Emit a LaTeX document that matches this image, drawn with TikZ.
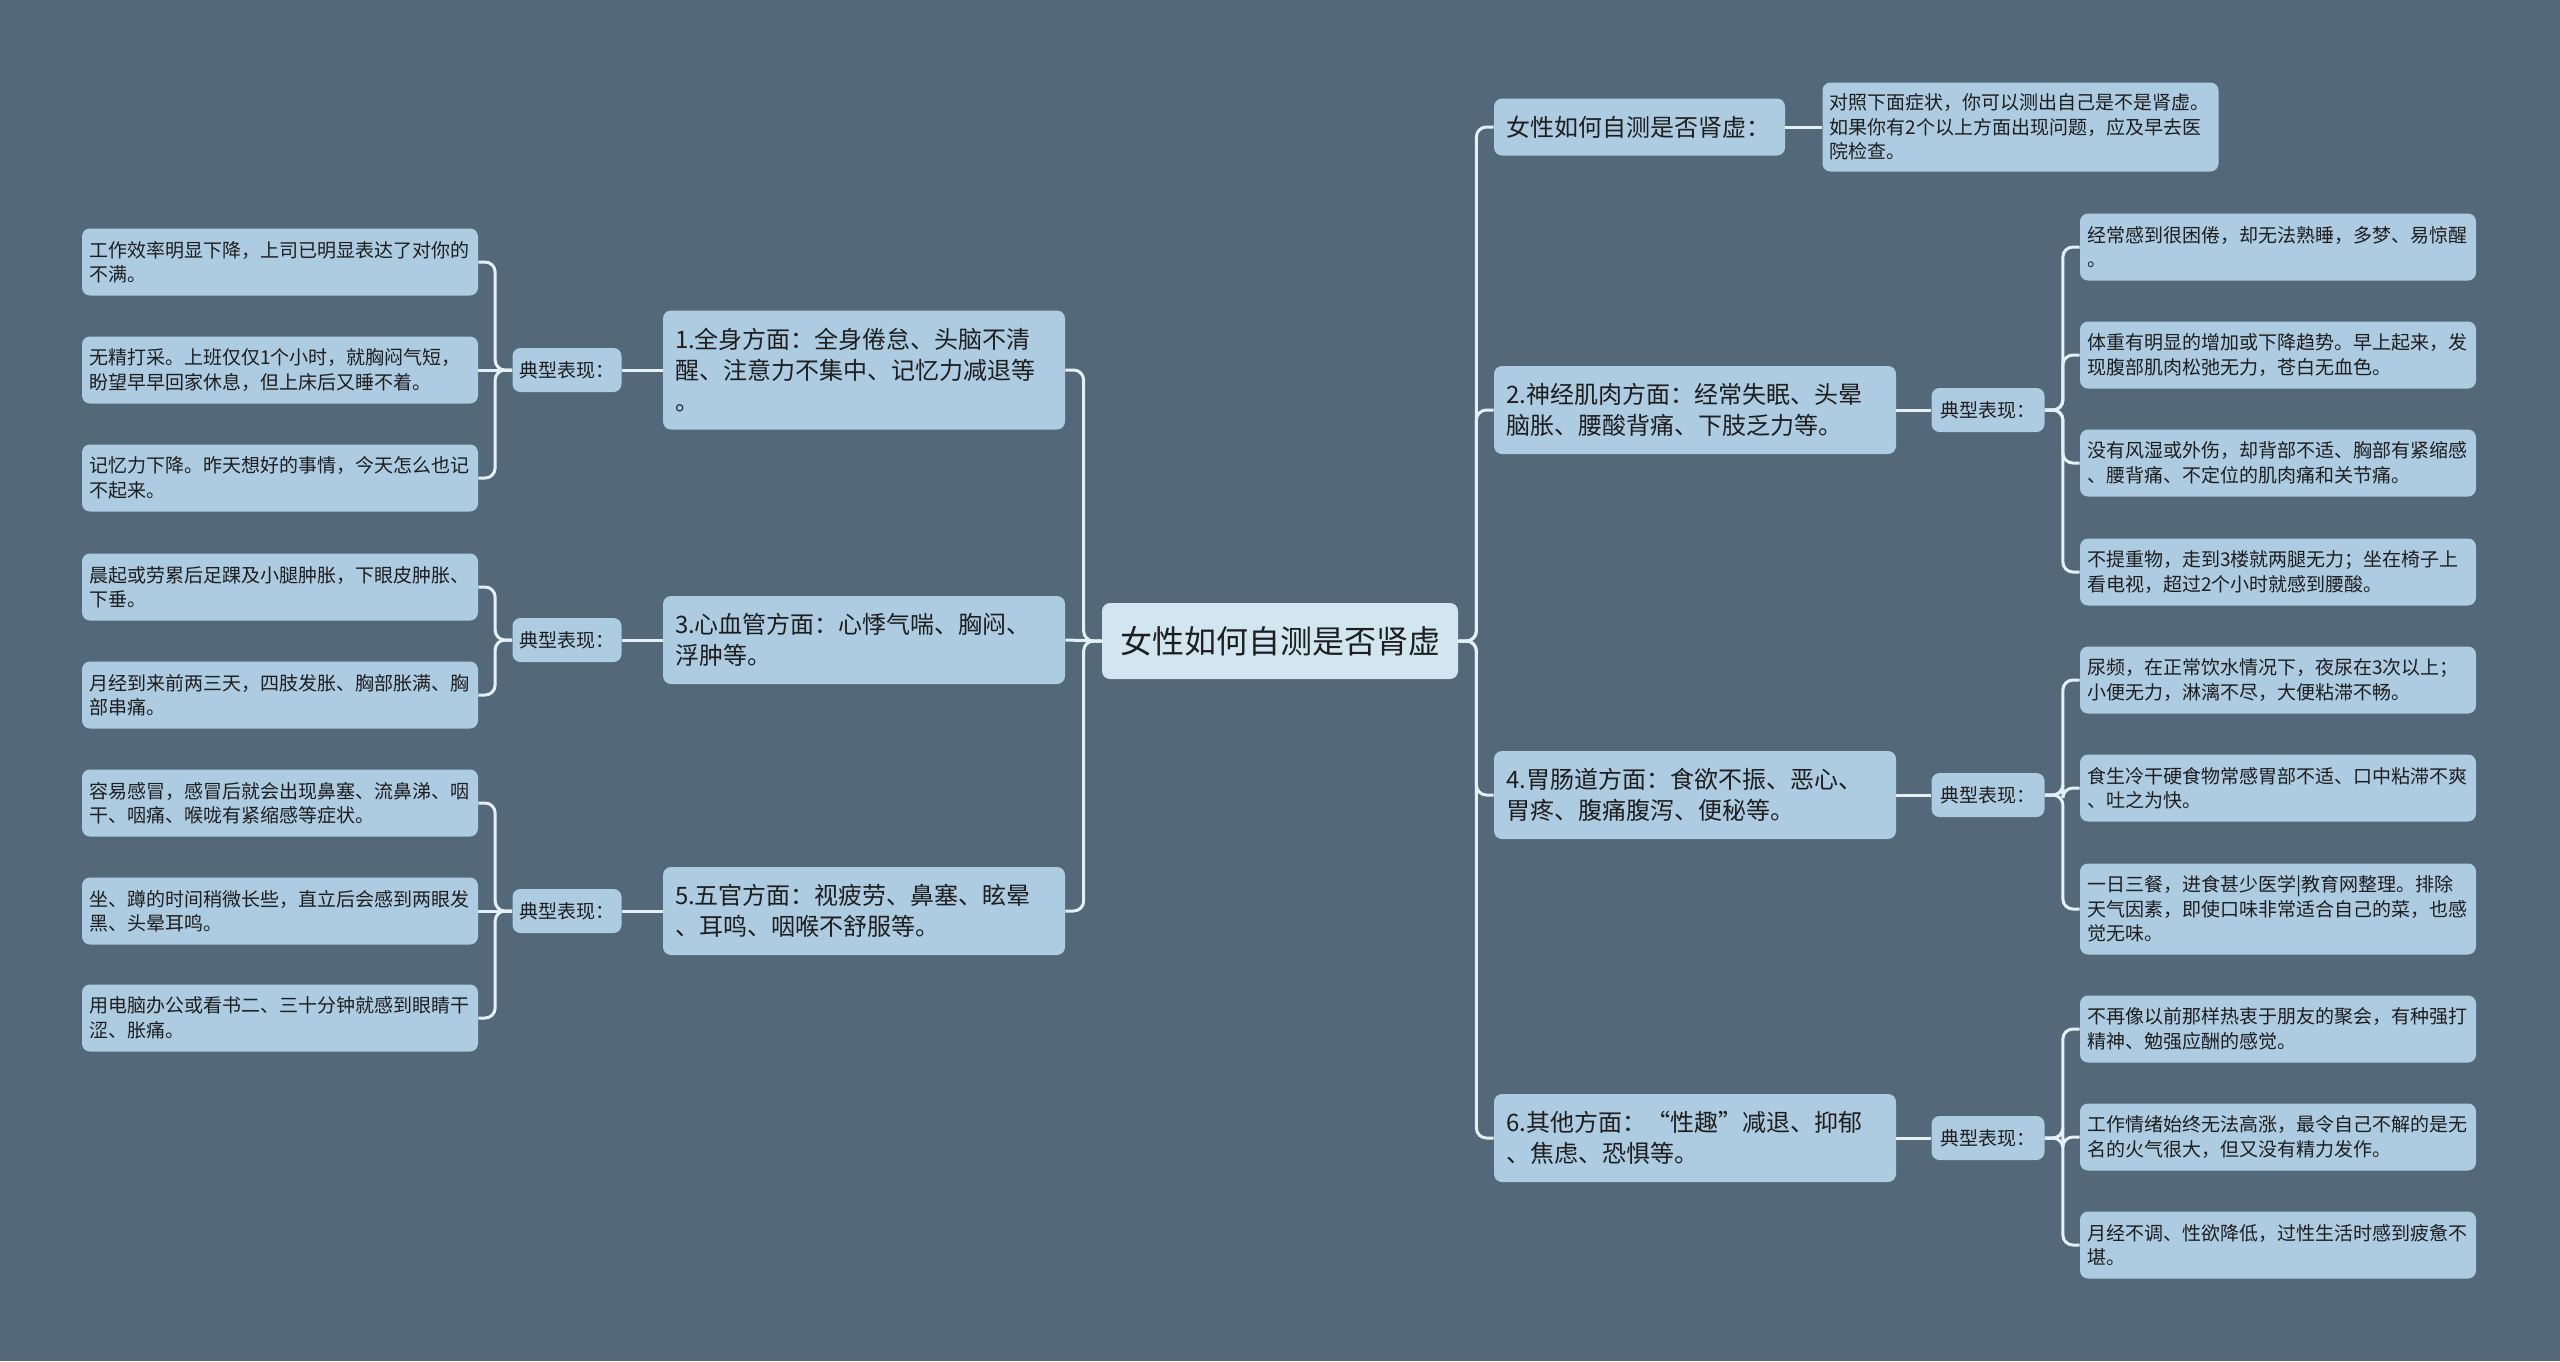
\documentclass[tikz,border=0pt]{standalone}
\usepackage{fontspec}
\setmainfont{Noto Sans CJK SC}
\definecolor{bgslate}{HTML}{536979}
\definecolor{leafblue}{HTML}{ADCBE1}
\definecolor{rootblue}{HTML}{D2E6F2}
\definecolor{linkwhite}{HTML}{E4EFF6}
\definecolor{inkdark}{HTML}{1E1E1E}

\tikzset{every picture/.style={line width=0.75pt}}
\tikzset{
  boxbase/.style={fill=leafblue, rounded corners=8, text=inkdark, anchor=center},
  leaf/.style={boxbase, align=left, text width=382, inner xsep=7, inner ysep=3,
    minimum height=67, font=\fontsize{19}{24.5}\selectfont},
  branch/.style={boxbase, align=left, text width=378, inner xsep=12, inner ysep=3,
    minimum height=88, font=\fontsize{24}{31}\selectfont},
  tagbox/.style={boxbase, inner sep=3, minimum width=109, minimum height=44,
    font=\fontsize{19}{24}\selectfont},
  rootbox/.style={boxbase, fill=rootblue, inner sep=3, minimum width=356, minimum height=76,
    font=\fontsize{32}{38}\selectfont},
  link/.style={draw=linkwhite, line width=3, rounded corners=10}
}

\begin{document}
\begin{tikzpicture}[x=1pt,y=1pt,yscale=-1,xscale=1]
\useasboundingbox (0,0) rectangle (2560,1361);
\fill[bgslate] (0,0) rectangle (2560,1361);

% centre
\node[rootbox] (root) at (1280,641) {女性如何自测是否肾虚};

% left branches
\node[branch, minimum height=119] (n1) at (864,370) {1.全身方面：全身倦怠、头脑不清\\醒、注意力不集中、记忆力减退等\\。};
\node[branch] (n3) at (864,640) {3.心血管方面：心悸气喘、胸闷、\\浮肿等。};
\node[branch] (n5) at (864,911) {5.五官方面：视疲劳、鼻塞、眩晕\\、耳鸣、咽喉不舒服等。};

\node[tagbox] (t1) at (567,370) {典型表现：};
\node[tagbox] (t3) at (567,640) {典型表现：};
\node[tagbox] (t5) at (567,911) {典型表现：};

\node[leaf] (a1) at (280,262) {工作效率明显下降，上司已明显表达了对你的\\不满。};
\node[leaf] (a2) at (280,370) {无精打采。上班仅仅1个小时，就胸闷气短，\\盼望早早回家休息，但上床后又睡不着。};
\node[leaf] (a3) at (280,478) {记忆力下降。昨天想好的事情，今天怎么也记\\不起来。};

\node[leaf] (c1) at (280,587) {晨起或劳累后足踝及小腿肿胀，下眼皮肿胀、\\下垂。};
\node[leaf] (c2) at (280,695) {月经到来前两三天，四肢发胀、胸部胀满、胸\\部串痛。};

\node[leaf] (e1) at (280,803) {容易感冒，感冒后就会出现鼻塞、流鼻涕、咽\\干、咽痛、喉咙有紧缩感等症状。};
\node[leaf] (e2) at (280,911) {坐、蹲的时间稍微长些，直立后会感到两眼发\\黑、头晕耳鸣。};
\node[leaf] (e3) at (280,1018) {用电脑办公或看书二、三十分钟就感到眼睛干\\涩、胀痛。};

% right branches
\node[branch, text width=267, minimum height=57] (r0) at (1639.5,127) {女性如何自测是否肾虚：};
\node[branch] (r2) at (1695,410) {2.神经肌肉方面：经常失眠、头晕\\脑胀、腰酸背痛、下肢乏力等。};
\node[branch] (r4) at (1695,795) {4.胃肠道方面：食欲不振、恶心、\\胃疼、腹痛腹泻、便秘等。};
\node[branch] (r6) at (1695,1138) {6.其他方面：“性趣”减退、抑郁\\、焦虑、恐惧等。};

\node[leaf, minimum height=89] (s0) at (2020.5,127) {对照下面症状，你可以测出自己是不是肾虚。\\如果你有2个以上方面出现问题，应及早去医\\院检查。};

\node[tagbox, minimum width=113] (u2) at (1988,410) {典型表现：};
\node[tagbox, minimum width=113] (u4) at (1988,795) {典型表现：};
\node[tagbox, minimum width=113] (u6) at (1988,1138) {典型表现：};

\node[leaf] (b1) at (2278,247) {经常感到很困倦，却无法熟睡，多梦、易惊醒\\。};
\node[leaf] (b2) at (2278,355) {体重有明显的增加或下降趋势。早上起来，发\\现腹部肌肉松弛无力，苍白无血色。};
\node[leaf] (b3) at (2278,463) {没有风湿或外伤，却背部不适、胸部有紧缩感\\、腰背痛、不定位的肌肉痛和关节痛。};
\node[leaf] (b4) at (2278,572) {不提重物，走到3楼就两腿无力；坐在椅子上\\看电视，超过2个小时就感到腰酸。};

\node[leaf] (d1) at (2278,680) {尿频，在正常饮水情况下，夜尿在3次以上；\\小便无力，淋漓不尽，大便粘滞不畅。};
\node[leaf] (d2) at (2278,788) {食生冷干硬食物常感胃部不适、口中粘滞不爽\\、吐之为快。};
\node[leaf, minimum height=91] (d3) at (2278,909) {一日三餐，进食甚少医学|教育网整理。排除\\天气因素，即使口味非常适合自己的菜，也感\\觉无味。};

\node[leaf] (f1) at (2278,1029) {不再像以前那样热衷于朋友的聚会，有种强打\\精神、勉强应酬的感觉。};
\node[leaf] (f2) at (2278,1137) {工作情绪始终无法高涨，最令自己不解的是无\\名的火气很大，但又没有精力发作。};
\node[leaf] (f3) at (2278,1245) {月经不调、性欲降低，过性生活时感到疲惫不\\堪。};

% links, left
\draw[link] (root.west) -- ++(-18,0) |- (n1.east);
\draw[link] (root.west) -- (n3.east);
\draw[link] (root.west) -- ++(-18,0) |- (n5.east);
\draw[link] (n1.west) -- (t1.east);
\draw[link] (n3.west) -- (t3.east);
\draw[link] (n5.west) -- (t5.east);
\draw[link] (t1.west) -- ++(-17,0) |- (a1.east);
\draw[link] (t1.west) -- (a2.east);
\draw[link] (t1.west) -- ++(-17,0) |- (a3.east);
\draw[link] (t3.west) -- ++(-17,0) |- (c1.east);
\draw[link] (t3.west) -- ++(-17,0) |- (c2.east);
\draw[link] (t5.west) -- ++(-17,0) |- (e1.east);
\draw[link] (t5.west) -- (e2.east);
\draw[link] (t5.west) -- ++(-17,0) |- (e3.east);

% links, right
\draw[link] (root.east) -- ++(18,0) |- (r0.west);
\draw[link] (root.east) -- ++(18,0) |- (r2.west);
\draw[link] (root.east) -- ++(18,0) |- (r4.west);
\draw[link] (root.east) -- ++(18,0) |- (r6.west);
\draw[link] (r0.east) -- (s0.west);
\draw[link] (r2.east) -- (u2.west);
\draw[link] (r4.east) -- (u4.west);
\draw[link] (r6.east) -- (u6.west);
\draw[link] (u2.east) -- ++(18,0) |- (b1.west);
\draw[link] (u2.east) -- ++(18,0) |- (b2.west);
\draw[link] (u2.east) -- ++(18,0) |- (b3.west);
\draw[link] (u2.east) -- ++(18,0) |- (b4.west);
\draw[link] (u4.east) -- ++(18,0) |- (d1.west);
\draw[link] (u4.east) -- ++(18,0) |- (d2.west);
\draw[link] (u4.east) -- ++(18,0) |- (d3.west);
\draw[link] (u6.east) -- ++(18,0) |- (f1.west);
\draw[link] (u6.east) -- ++(18,0) |- (f2.west);
\draw[link] (u6.east) -- ++(18,0) |- (f3.west);

\end{tikzpicture}
\end{document}
